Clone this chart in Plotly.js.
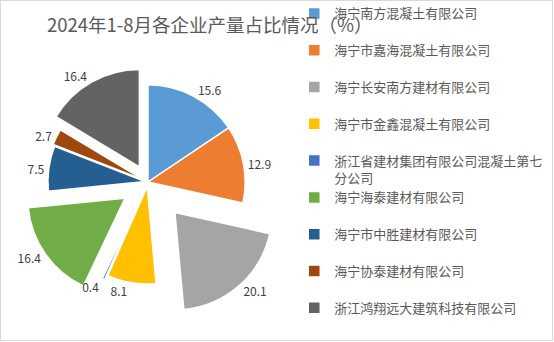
<!DOCTYPE html>
<html>
<head>
<meta charset="utf-8">
<script src="https://cdn.plot.ly/plotly-3.0.1.min.js"></script>
<style>
html,body{margin:0;padding:0;background:#fff;}
#chart{width:551px;height:339px;border:1px solid #d9d9d9;}
</style>
</head>
<body>
<div id="chart"></div>
<script>
var categories = [
  "海宁南方混凝土有限公司",
  "海宁市嘉海混凝土有限公司",
  "海宁长安南方建材有限公司",
  "海宁市金鑫混凝土有限公司",
  "浙江省建材集团有限公司混凝土第七分公司",
  "海宁海泰建材有限公司",
  "海宁市中胜建材有限公司",
  "海宁协泰建材有限公司",
  "浙江鸿翔远大建筑科技有限公司"
];
var shares = [15.6, 12.9, 20.1, 8.1, 0.4, 16.4, 7.5, 2.7, 16.4];
var pulls = [0, 0, 0.42, 0.05, 0.1, 0.29, 0.03, 0.05, 0.18];
var colors = ["#5B9BD5", "#ED7D31", "#A5A5A5", "#FFC000", "#4472C4", "#70AD47", "#255E91", "#9E480E", "#636363"];
var titleText = "2024年1-8月各企业产量占比情况（%）";

// legend labels: wrap long name, keep equal two-line item height
var legendLabels = categories.map(function (c) {
  if (c.length > 16) return c.slice(0, 16) + "<br>" + c.slice(16);
  return c + "<br>&nbsp;";
});
var valueTexts = shares.map(function (v) { return v.toFixed(1); });
var labelFont = {family: "Noto Sans CJK SC, sans-serif", size: 12, color: "#404040"};
var maxPull = Math.max.apply(null, pulls);

var traces = [{
  type: "pie",
  labels: legendLabels,
  values: shares,
  sort: false,
  direction: "clockwise",
  rotation: 0,
  pull: pulls,
  marker: {colors: colors, line: {color: "#ffffff", width: 1.5}},
  textinfo: "none",
  hoverinfo: "label+value",
  domain: {x: [0, 1], y: [0, 1]}
}];

// one transparent overlay per value label (same radius, same pull for that slice),
// so labels sit at their natural spots like the original, without stacking
shares.forEach(function (v, i) {
  var f = (1 + pulls[i]) / (1 + maxPull);
  traces.push({
    type: "pie",
    labels: legendLabels,
    values: shares,
    sort: false,
    direction: "clockwise",
    rotation: 0,
    pull: pulls[i],
    marker: {colors: shares.map(function () { return "rgba(0,0,0,0)"; }), line: {width: 0}},
    text: valueTexts.map(function (t, j) { return j === i ? t : ""; }),
    textinfo: "text",
    textposition: "outside",
    outsidetextfont: labelFont,
    showlegend: false,
    hoverinfo: "skip",
    domain: {x: [0.5 - f / 2, 0.5 + f / 2], y: [0.5 - f / 2, 0.5 + f / 2]}
  });
});

var layout = {
  width: 551,
  height: 339,
  margin: {l: 9, r: 266, t: 43, b: 20, autoexpand: false},
  paper_bgcolor: "#ffffff",
  plot_bgcolor: "#ffffff",
  font: {family: "Noto Sans CJK SC, sans-serif", color: "#595959"},
  title: {
    text: titleText,
    font: {family: "Noto Sans CJK SC, sans-serif", size: 18.5, color: "#595959"},
    xref: "container", yref: "container",
    x: 0.379, y: 0.929, xanchor: "center", yanchor: "middle"
  },
  showlegend: true,
  legend: {
    x: 1.03, y: 1.165, xanchor: "left", yanchor: "top",
    orientation: "v",
    valign: "top",
    maxheight: 400,
    bgcolor: "rgba(0,0,0,0)",
    font: {family: "Noto Sans CJK SC, sans-serif", size: 13, color: "#595959"},
    traceorder: "normal"
  }
};

Plotly.newPlot("chart", traces, layout, {displayModeBar: false, staticPlot: true});
</script>
</body>
</html>
